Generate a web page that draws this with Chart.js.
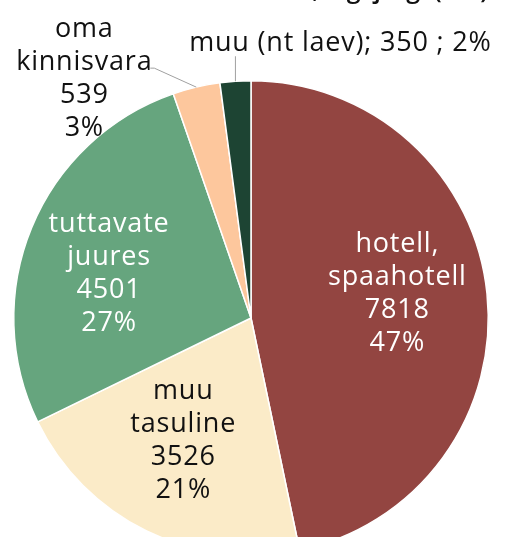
<!DOCTYPE html>
<html>
<head>
<meta charset="utf-8">
<script src="https://cdn.jsdelivr.net/npm/chart.js@4"></script>
<style>
  html, body { margin: 0; padding: 0; background: #fff; overflow: hidden; }
  canvas { display: block; }
</style>
</head>
<body>
<canvas id="chart" width="514" height="600"></canvas>
<script>
// Data
const titleText = "Ööbimised kodumaa reisil, liigi järgi (arv):";
const categories = [
  ["hotell,", "spaahotell"],
  ["muu", "tasuline"],
  ["tuttavate", "juures"],
  ["oma", "kinnisvara"],
  ["muu (nt laev)"]
];
const values = [7818, 3526, 4501, 539, 350];
const percents = ["47%", "21%", "27%", "3%", "2%"];

const colors = ["#934541", "#FBEBC8", "#66A57E", "#FDC79D", "#1D4433"];
const textColors = ["#ffffff", "#111111", "#ffffff", "#111111", "#111111"];
// small shifts of the inside labels from the slice middle
const labelShift = [[0, -9], [-3, -9], [-6, 12]];

const FONT = "'Open Sans', sans-serif";
const LINE_H = 33;

// Title, clipped at the top of the window
const titlePlugin = {
  id: "clippedTitle",
  afterDraw(chart) {
    const ctx = chart.ctx;
    ctx.save();
    ctx.font = "600 25px " + FONT;
    ctx.fillStyle = "#111";
    ctx.textAlign = "center";
    ctx.textBaseline = "alphabetic";
    ctx.fillText(titleText, 246, -2);
    ctx.restore();
  }
};

// Slice labels: inside for big slices, outside with leader lines for small ones
const labelPlugin = {
  id: "sliceLabels",
  afterDatasetsDraw(chart) {
    const ctx = chart.ctx;
    const arcs = chart.getDatasetMeta(0).data;
    ctx.save();
    ctx.font = "27px " + FONT;
    ctx.letterSpacing = "0.8px";
    ctx.textAlign = "center";
    ctx.textBaseline = "middle";
    arcs.forEach((arc, i) => {
      const mid = (arc.startAngle + arc.endAngle) / 2;
      const cos = Math.cos(mid), sin = Math.sin(mid);
      const R = arc.outerRadius;
      ctx.fillStyle = textColors[i];
      if (i === 4) {
        // single line label above the pie
        const ex = arc.x + R * cos, ey = arc.y + R * sin;
        ctx.strokeStyle = "#a0a0a0";
        ctx.lineWidth = 1;
        ctx.beginPath();
        ctx.moveTo(ex, ey);
        ctx.lineTo(ex, ey - 25);
        ctx.stroke();
        ctx.fillText(categories[i][0] + "; " + values[i] + " ; " + percents[i], ex + 105, ey - 38);
        return;
      }
      let lines = categories[i].concat([String(values[i]), percents[i]]);
      let cx, cy;
      if (i === 3) {
        const ex = arc.x + R * cos, ey = arc.y + R * sin;
        ctx.strokeStyle = "#a0a0a0";
        ctx.lineWidth = 1;
        ctx.beginPath();
        ctx.moveTo(ex, ey);
        ctx.lineTo(ex - 42, ey - 19);
        ctx.lineTo(ex - 46, ey - 19);
        ctx.stroke();
        cx = ex - 112;
        cy = ey - 8;
      } else {
        const r = R * 0.62;
        cx = arc.x + r * cos + labelShift[i][0];
        cy = arc.y + r * sin + labelShift[i][1];
      }
      const top = cy - (lines.length - 1) * LINE_H / 2;
      lines.forEach((t, k) => ctx.fillText(t, cx, top + k * LINE_H));
    });
    ctx.restore();
  }
};

new Chart(document.getElementById("chart"), {
  type: "pie",
  data: {
    labels: categories.map(c => c.join(" ")),
    datasets: [{
      data: values,
      backgroundColor: colors,
      borderColor: "#ffffff",
      borderWidth: 1.5
    }]
  },
  options: {
    responsive: false,
    animation: false,
    layout: { padding: { left: 13, right: 25, top: 80, bottom: 44 } },
    plugins: {
      legend: { display: false },
      tooltip: { enabled: false },
      title: { display: false }
    }
  },
  plugins: [labelPlugin, titlePlugin]
});
</script>
</body>
</html>
